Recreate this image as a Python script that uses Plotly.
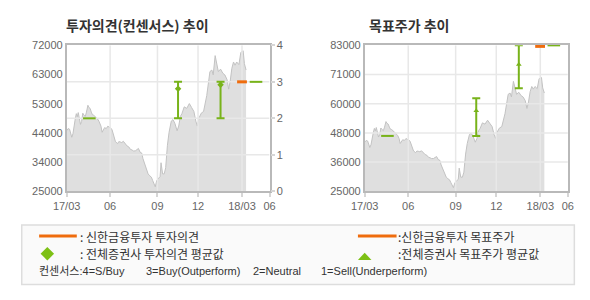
import plotly.graph_objects as go

# ---------------- data ----------------
# position along the time axis (chart session index) and closing price
t_idx = [0, 1.5, 3, 4.5, 5.3, 6.5, 7.7, 9, 10, 11, 12, 13, 14.3, 15.5, 16.7, 18, 19.3, 20.5, 22, 23,
         24.3, 25.5, 26.7, 28, 29.3, 30.5, 32, 33.5, 34.3, 35.5, 36.7, 38, 39.3, 41, 42.7, 44, 45.3,
         47, 49, 50.5, 52.7, 54, 55.3, 57, 58.7, 61, 62.5, 64.3, 66, 67.7, 69, 71, 72.5, 74.3, 76,
         77.7, 79, 81, 83, 84.3, 86, 87.7, 89, 90.5, 91.7, 93.3, 95, 96.7, 97.7, 98.5, 99.3, 101,
         102.5, 104.3, 106, 108.3, 110, 112, 114.3, 116, 117.7, 119.3, 121.7, 124.3, 127, 129.3,
         131.7, 133.7, 135.3, 137, 139.3, 141.7, 143.7, 145, 147, 148.3, 150.3, 151.7, 153.7, 155,
         157, 159.3, 161.7, 163.7, 166, 167.7, 169.3, 171, 172.7, 174.3, 176, 178.3, 180.3, 182.7,
         184, 185.7]
price = [44500, 45200, 45000, 43000, 42400, 43500, 46550, 48500, 50000, 49000, 50350, 48000, 46550,
         47500, 50150, 49500, 49100, 50500, 52700, 52000, 51700, 50500, 49650, 49500, 49100, 48800,
         48300, 47500, 47050, 46000, 44000, 45000, 45500, 45200, 46000, 45600, 45500, 44800, 42400,
         41000, 40350, 41000, 40900, 40700, 41100, 40100, 39600, 39300, 38500, 38300, 38000, 38000,
         38400, 38800, 37600, 37300, 35500, 33700, 31500, 30600, 30000, 29550, 28500, 27500, 26450,
         28500, 29000, 29750, 34200, 32000, 30600, 30600, 32600, 39800, 44000, 47600, 48100, 46900,
         44500, 46000, 49100, 50000, 52200, 51700, 53250, 52000, 50700, 47600, 46000, 48600, 50150,
         50700, 53250, 55800, 60500, 63550, 64050, 62500, 68700, 66100, 63550, 64350, 63000, 62500,
         61000, 57900, 60500, 64600, 66650, 65600, 66650, 65800, 69750, 70250, 66100, 64050]

x_tick_pos = [0, 45, 94, 136, 181.5, 210]
x_tick_lab = ["17/03", "06", "09", "12", "18/03", "06"]

# left chart (opinion)
left_price_ticks = [25000, 34400, 43800, 53200, 62600, 72000]
left_price_labels = ["25000", "34000", "44000", "53000", "63000", "72000"]
opinion_ticks = [0, 1, 2, 3, 4]

# 전체증권사 투자의견 (min / max / mean)
op_x = [23.5, 115.3, 159.3, 196]
op_min = [2, 2, 2, 3]
op_max = [2, 3, 3, 3]
op_mean = [2, 2.81, 2.92, 3]
# 신한금융투자 투자의견
sh_op_x = [181.5]
sh_op = [3]

# right chart (target price)
right_price_ticks = [25000, 36600, 48200, 59800, 71400, 83000]
right_price_labels = ["25000", "36000", "48000", "60000", "71000", "83000"]
tp_x = [23.5, 115.3, 159.3, 195.5]
tp_min = [47000, 47000, 66000, 83000]
tp_max = [47000, 62000, 83000, 83000]
tp_mean = [47000, 57000, 75400, 83000]
sh_tp_x = [181.3]
sh_tp = [82600]

GREEN = "#78b31a"
ORANGE = "#ef6c0d"
GRID = "#e8e8e8"
AXIS = "#b9b9b9"
TICKFONT = dict(family="Liberation Sans, Arial, sans-serif", size=11, color="#666666")
KFONT = "Noto Sans CJK KR"
LFONT = "Liberation Sans, Noto Sans CJK KR"

fig = go.Figure()


def add_chart(xa, ya, ya_grid, ymin, ymax, grid_levels, cx, cmin, cmax, cmean, sym, msize,
              sx, sy, ya_cons):
    # price area
    fig.add_trace(go.Scatter(x=t_idx, y=price, mode="lines", fill="tozeroy",
                             fillcolor="#dfdfdf", line=dict(color="#c2c2c2", width=1),
                             xaxis=xa, yaxis=ya, hoverinfo="skip", showlegend=False))
    # vertical grid lines
    for v in x_tick_pos[1:-1]:
        fig.add_trace(go.Scatter(x=[v, v], y=[ymin, ymax], mode="lines",
                                 line=dict(color=GRID, width=1.5), xaxis=xa, yaxis=ya,
                                 hoverinfo="skip", showlegend=False))
    # horizontal grid lines
    for g in grid_levels:
        fig.add_trace(go.Scatter(x=[x_tick_pos[0], x_tick_pos[-1]], y=[g, g], mode="lines",
                                 line=dict(color=GRID, width=1.5), xaxis=xa, yaxis=ya_grid,
                                 hoverinfo="skip", showlegend=False))
    # consensus ranges
    rx = [x for x, a, b in zip(cx, cmin, cmax) if a != b]
    rmean = [m for m, a, b in zip(cmean, cmin, cmax) if a != b]
    rup = [b - m for m, a, b in zip(cmean, cmin, cmax) if a != b]
    rdn = [m - a for m, a, b in zip(cmean, cmin, cmax) if a != b]
    fig.add_trace(go.Scatter(x=rx, y=rmean, mode="markers",
                             marker=dict(symbol=sym, size=msize, color=GREEN),
                             error_y=dict(type="data", symmetric=False, array=rup, arrayminus=rdn,
                                          color=GREEN, thickness=2, width=4),
                             xaxis=xa, yaxis=ya_cons, hoverinfo="skip", showlegend=False,
                             cliponaxis=False))
    px_ = [x for x, a, b in zip(cx, cmin, cmax) if a == b]
    py_ = [a for x, a, b in zip(cx, cmin, cmax) if a == b]
    fig.add_trace(go.Scatter(x=px_, y=py_, mode="markers",
                             marker=dict(symbol="line-ew", size=9, line=dict(color=GREEN, width=2)),
                             xaxis=xa, yaxis=ya_cons, hoverinfo="skip", showlegend=False,
                             cliponaxis=False))
    fig.add_trace(go.Scatter(x=sx, y=sy, mode="markers",
                             marker=dict(symbol="line-ew", size=7, line=dict(color=ORANGE, width=3)),
                             xaxis=xa, yaxis=ya_cons, hoverinfo="skip", showlegend=False,
                             cliponaxis=False))


add_chart("x", "y", "y2", 25000, 72000, opinion_ticks[1:-1],
          op_x, op_min, op_max, op_mean, "diamond", 5, sh_op_x, sh_op, "y2")
add_chart("x2", "y3", "y3", 25000, 83000, right_price_ticks[1:-1],
          tp_x, tp_min, tp_max, tp_mean, "triangle-up", 5, sh_tp_x, sh_tp, "y3")

ydom = [1 - 193 / 300, 1 - 41 / 300]
xcommon = dict(range=[x_tick_pos[0], x_tick_pos[-1]], tickvals=x_tick_pos, ticktext=x_tick_lab,
               ticks="outside", ticklen=4, tickcolor="#d6d6d6", tickwidth=1.5,
               showline=True, linecolor=AXIS, linewidth=1.5, mirror=True,
               showgrid=False, zeroline=False, tickfont=TICKFONT, fixedrange=True)
ycommon = dict(ticks="", showline=True, linecolor=AXIS, linewidth=1.5, mirror=True,
               showgrid=False, zeroline=False, tickfont=TICKFONT, fixedrange=True)

fig.update_layout(
    width=590, height=300, margin=dict(l=0, r=0, t=0, b=0),
    paper_bgcolor="white", plot_bgcolor="white", showlegend=False,
    xaxis=dict(domain=[54.5 / 590, 264.5 / 590], anchor="y", **xcommon),
    yaxis=dict(domain=ydom, anchor="x", range=[25000, 72000], tickvals=left_price_ticks,
               ticktext=left_price_labels, **ycommon),
    yaxis2=dict(overlaying="y", anchor="x", side="right", range=[0, 4], tickvals=opinion_ticks,
                ticks="outside", ticklen=4, tickcolor="#d6d6d6", tickwidth=1.5,
                showline=False, showgrid=False, zeroline=False, tickfont=TICKFONT, fixedrange=True),
    xaxis2=dict(domain=[363 / 590, 573.3 / 590], anchor="y3", **xcommon),
    yaxis3=dict(domain=ydom, anchor="x2", range=[25000, 83000], tickvals=right_price_ticks,
                ticktext=right_price_labels, **ycommon),
)


def P(x, y):
    return x / 590, 1 - y / 300


annots = []


def text(x, y, s, size=12, bold=False, color="#333333", family=KFONT):
    px, py = P(x, y)
    annots.append(dict(x=px, y=py, xref="paper", yref="paper", text=f"<b>{s}</b>" if bold else s,
                       showarrow=False, xanchor="left", yanchor="middle",
                       font=dict(family=family, size=size, color=color)))


text(52, 20, "투자의견(컨센서스) 추이", size=14, bold=True)
text(365, 20, "목표주가 추이", size=14, bold=True)

text(66, 240, ": 신한금융투자 투자의견")
text(66, 258, ": 전체증권사 투자의견 평균값")
text(395, 240, ":신한금융투자 목표주가")
text(395, 258, ":전체증권사 목표주가 평균값")
text(24, 276, "컨센서스:4=S/Buy", size=11, family=LFONT)
text(135, 276, "3=Buy(Outperform)", size=11, family=LFONT)
text(245, 276, "2=Neutral", size=11, family=LFONT)
text(316, 276, "1=Sell(Underperform)", size=11, family=LFONT)

shapes = []
bx0, by0 = P(8, 228)
bx1, by1 = P(580, 290)
shapes.append(dict(type="rect", xref="paper", yref="paper", x0=bx0, y0=by1, x1=bx1, y1=by0,
                   fillcolor="#fafafa", line=dict(color="#dddddd", width=1.5), layer="below"))
for (a, b, y) in [(26, 65, 239.5), (356, 396, 239.5)]:
    x0, yy = P(a, y)
    x1, _ = P(b, y)
    shapes.append(dict(type="line", xref="paper", yref="paper", x0=x0, x1=x1, y0=yy, y1=yy,
                       line=dict(color=ORANGE, width=3)))


def path(pts):
    s = ""
    for i, (x, y) in enumerate(pts):
        px, py = P(x, y)
        s += ("M" if i == 0 else "L") + f"{px:.5f},{py:.5f} "
    return s + "Z"


shapes.append(dict(type="path", xref="paper", yref="paper",
                   path=path([(34.5, 251), (41.5, 258), (34.5, 265), (27.5, 258)]),
                   fillcolor="#7dc015", line=dict(width=0)))
shapes.append(dict(type="path", xref="paper", yref="paper",
                   path=path([(356, 264.5), (370, 264.5), (363, 257)]),
                   fillcolor="#7dc015", line=dict(width=0)))

fig.update_layout(annotations=annots, shapes=shapes)
fig.write_html("out.html")
